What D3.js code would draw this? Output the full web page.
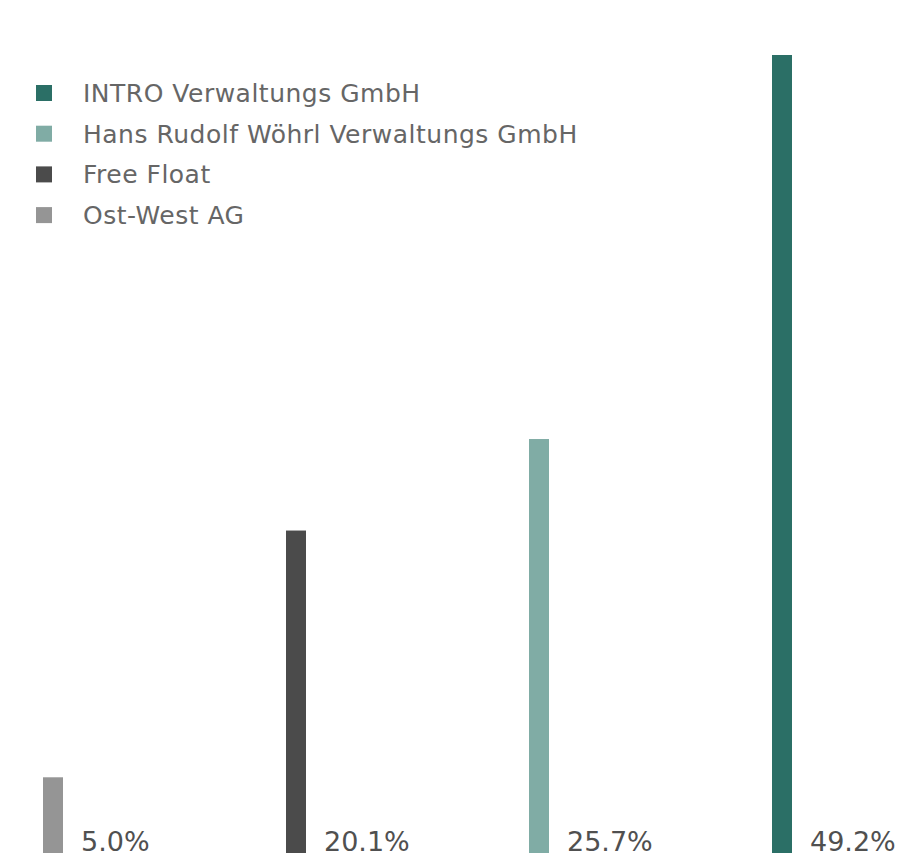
<!DOCTYPE html>
<html>
<head>
<meta charset="utf-8">
<script src="https://cdn.jsdelivr.net/npm/d3@7"></script>
<style>
  body { margin: 0; background: #fff; }
  svg { display: block; }
  .label { font-family: "DejaVu Sans", sans-serif; fill: #505050; }
  .legend text { font-family: "DejaVu Sans", sans-serif; fill: #666; }
</style>
</head>
<body>
<script>
// shareholders, left to right as drawn
var holders = ["Ost-West AG", "Free Float", "Hans Rudolf Wöhrl Verwaltungs GmbH", "INTRO Verwaltungs GmbH"];
var shares = [5.0, 20.1, 25.7, 49.2];
var shareLabels = ["5.0%", "20.1%", "25.7%", "49.2%"];
var colors = ["#959595", "#4b4b4b", "#80aca5", "#2b6f66"];
// legend lists them the other way round
var legendOrder = ["INTRO Verwaltungs GmbH", "Hans Rudolf Wöhrl Verwaltungs GmbH", "Free Float", "Ost-West AG"];

var width = 906, height = 867;
var baseline = 853;
var barWidth = 20;

var svg = d3.select("body").append("svg")
  .attr("width", width)
  .attr("height", height);

var x = d3.scalePoint().domain(holders).range([53, 782]);
var y = d3.scaleLinear().domain([0, d3.max(shares)]).range([859, 55]);
var color = d3.scaleOrdinal().domain(holders).range(colors);

var data = holders.map(function(h, i) {
  return { name: h, value: shares[i], label: shareLabels[i] };
});

svg.selectAll("rect.bar")
  .data(data)
  .enter().append("rect")
    .attr("class", "bar")
    .attr("x", function(d) { return x(d.name) - barWidth / 2; })
    .attr("y", function(d) { return y(d.value); })
    .attr("width", barWidth)
    .attr("height", function(d) { return baseline - y(d.value); })
    .attr("fill", function(d) { return color(d.name); });

svg.selectAll("text.label")
  .data(data)
  .enter().append("text")
    .attr("class", "label")
    .attr("x", function(d) { return x(d.name) + barWidth / 2 + 18; })
    .attr("y", baseline - 2)
    .attr("font-size", 27)
    .text(function(d) { return d.label; });

var legend = svg.append("g")
  .attr("class", "legend")
  .attr("transform", "translate(36,93)");

var rows = legendOrder.map(function(name, i) { return { name: name, i: i }; });
var row = legend.selectAll("g")
  .data(rows)
  .enter().append("g")
    .attr("transform", function(d) { return "translate(0," + (d.i * 40.7) + ")"; });

row.append("rect")
  .attr("x", 0)
  .attr("y", -8)
  .attr("width", 16)
  .attr("height", 16)
  .attr("fill", function(d) { return color(d.name); });

row.append("text")
  .attr("x", 47)
  .attr("y", 9)
  .attr("font-size", 25)
  .attr("letter-spacing", 0.5)
  .text(function(d) { return d.name; });
</script>
</body>
</html>
